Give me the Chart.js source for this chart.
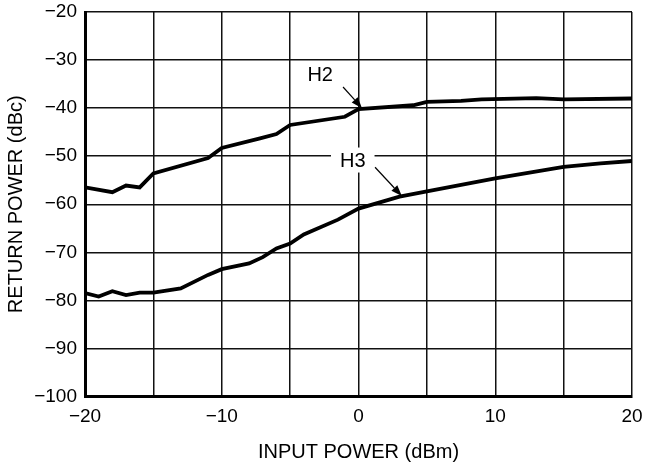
<!DOCTYPE html>
<html>
<head>
<meta charset="utf-8">
<script src="https://cdn.jsdelivr.net/npm/chart.js@4.4.0/dist/chart.umd.min.js"></script>
<style>
  html, body { margin: 0; padding: 0; background: #fff; }
  #wrap { width: 647px; height: 467px; }
</style>
</head>
<body>
<div id="wrap"><canvas id="c" width="647" height="467"></canvas></div>
<script>
// ---- data ----
const h2X = [-20, -18, -17, -16, -15, -11, -10, -7.2, -6, -5, -1, 0, 4, 5, 7.5, 9, 13, 15, 20];
const h2Y = [-56.5, -57.5, -56.1, -56.5, -53.6, -50.4, -48.3, -46.3, -45.4, -43.5, -41.8, -40.2, -39.4, -38.7, -38.5, -38.2, -37.9, -38.2, -38.0];
const h3X = [-20, -19, -18, -17, -16, -15, -13, -11, -10, -8, -7, -6, -5, -4, -1.5, 0, 3, 5, 10, 15, 17.7, 20];
const h3Y = [-78.5, -79.2, -78.1, -78.9, -78.4, -78.4, -77.5, -74.7, -73.5, -72.3, -71.0, -69.2, -68.2, -66.3, -63.2, -60.9, -58.4, -57.3, -54.6, -52.2, -51.5, -51.0];
const xTickLabels = [-20, -10, 0, 10, 20];
const yTickLabels = [-100, -90, -80, -70, -60, -50, -40, -30, -20];
const seriesNames = ['H2', 'H3'];

const toPts = (xs, ys) => xs.map((x, i) => ({x, y: ys[i]}));
const fmt = v => (v < 0 ? '\u2212' + Math.abs(v) : String(v));

const FONT = '"Liberation Sans", Arial, Helvetica, sans-serif';

// annotation labels with arrows (in data units)
const notes = [
  { text: seriesNames[0], tx: -2.8, ty: -33.1, from: [-1.13, -35.6], to: [0.26, -40.0], box: false },
  { text: seriesNames[1], tx: -0.42, ty: -50.8, from: [1.21, -52.3], to: [3.17, -58.3], box: true }
];

const notePlugin = {
  id: 'notes',
  afterDatasetsDraw(chart) {
    const {ctx, scales: {x, y}} = chart;
    ctx.save();
    ctx.font = '20px ' + FONT;
    ctx.textAlign = 'center';
    ctx.textBaseline = 'middle';
    notes.forEach(n => {
      const px = x.getPixelForValue(n.tx), py = y.getPixelForValue(n.ty);
      if (n.box) {
        const w = ctx.measureText(n.text).width + 18;
        ctx.fillStyle = '#fff';
        ctx.fillRect(px - w / 2, py - 12.5, w, 25);
      }
      ctx.fillStyle = '#000';
      ctx.fillText(n.text, px, py + 1);
      const x1 = x.getPixelForValue(n.from[0]), y1 = y.getPixelForValue(n.from[1]);
      const x2 = x.getPixelForValue(n.to[0]), y2 = y.getPixelForValue(n.to[1]);
      const ang = Math.atan2(y2 - y1, x2 - x1);
      const L = 11, W = 4;
      const bx = x2 - L * Math.cos(ang), by = y2 - L * Math.sin(ang);
      ctx.strokeStyle = '#000';
      ctx.lineWidth = 1.2;
      ctx.beginPath();
      ctx.moveTo(x1, y1);
      ctx.lineTo(bx, by);
      ctx.stroke();
      ctx.beginPath();
      ctx.moveTo(x2, y2);
      ctx.lineTo(bx + W * Math.sin(ang), by - W * Math.cos(ang));
      ctx.lineTo(bx - W * Math.sin(ang), by + W * Math.cos(ang));
      ctx.closePath();
      ctx.fill();
    });
    ctx.restore();
  }
};

function zeroPad(s) { s.paddingLeft = 0; s.paddingRight = 0; s.paddingTop = 0; s.paddingBottom = 0; }

new Chart(document.getElementById('c'), {
  type: 'line',
  data: {
    datasets: [
      { label: seriesNames[0], data: toPts(h2X, h2Y), borderColor: '#000', borderWidth: 3.8, pointRadius: 0, tension: 0, fill: false },
      { label: seriesNames[1], data: toPts(h3X, h3Y), borderColor: '#000', borderWidth: 3.8, pointRadius: 0, tension: 0, fill: false }
    ]
  },
  options: {
    responsive: false,
    animation: false,
    layout: { padding: { left: 0, right: 15, top: 12, bottom: 0 } },
    plugins: { legend: { display: false }, tooltip: { enabled: false } },
    scales: {
      x: {
        type: 'linear', min: -20, max: 20,
        afterFit(s) { s.height = 70.5; zeroPad(s); },
        ticks: {
          stepSize: 5, padding: 9, color: '#000', maxRotation: 0, autoSkip: false,
          font: { family: FONT, size: 19 },
          callback: v => (xTickLabels.includes(v) ? fmt(v) : '')
        },
        grid: { color: '#111', lineWidth: 1.5, drawTicks: false },
        border: { color: '#000', width: 3 },
        title: { display: true, text: 'INPUT POWER (dBm)', color: '#000', font: { family: FONT, size: 20 }, padding: { top: 3, bottom: 3 } }
      },
      y: {
        type: 'linear', min: -100, max: -20,
        afterFit(s) { s.width = 85; zeroPad(s); },
        ticks: {
          stepSize: 10, padding: 8, color: '#000',
          font: { family: FONT, size: 19 },
          callback: v => (yTickLabels.includes(v) ? fmt(v) : '')
        },
        grid: { color: '#111', lineWidth: 1.5, drawTicks: false },
        border: { color: '#000', width: 3 },
        title: { display: true, text: 'RETURN POWER (dBc)', color: '#000', font: { family: FONT, size: 20 }, padding: { top: 4, bottom: 4 } }
      }
    }
  },
  plugins: [notePlugin]
});
</script>
</body>
</html>
